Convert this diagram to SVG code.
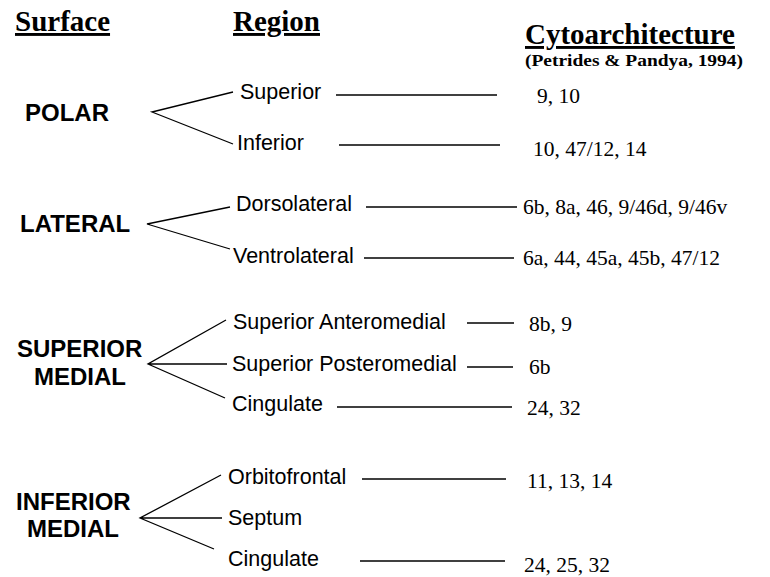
<svg xmlns="http://www.w3.org/2000/svg" width="770" height="577" viewBox="0 0 770 577">
<style>
.hdr{font-family:"Liberation Serif",serif;font-weight:bold;font-size:29px;fill:#000;text-decoration:underline}
.cite{font-family:"Liberation Serif",serif;font-weight:bold;font-size:17px;fill:#000}
.surf{font-family:"Liberation Sans",Arial,sans-serif;font-weight:bold;font-size:24px;fill:#000}
.reg{font-family:"Liberation Sans",Arial,sans-serif;font-size:21.5px;fill:#000}
.cyt{font-family:"Liberation Serif",serif;font-size:21.5px;fill:#000}
.ln{stroke:#000;stroke-width:1.3;fill:none}
</style>
<rect width="770" height="577" fill="#fff"/>
<g id="headers">
<text class="hdr" x="15" y="31">Surface</text>
<text class="hdr" x="233" y="31">Region</text>
<text class="hdr" x="525" y="44">Cytoarchitecture</text>
<text class="cite" x="525" y="66" textLength="218" lengthAdjust="spacingAndGlyphs">(Petrides &amp; Pandya, 1994)</text>
</g>
<g id="surface-polar"><text class="surf" x="25" y="121">POLAR</text></g>
<g id="surface-lateral"><text class="surf" x="20" y="232">LATERAL</text></g>
<g id="surface-superior-medial"><text class="surf" x="17" y="357">SUPERIOR</text><text class="surf" x="34" y="385">MEDIAL</text></g>
<g id="surface-inferior-medial"><text class="surf" x="16" y="510">INFERIOR</text><text class="surf" x="27" y="537">MEDIAL</text></g>

<g id="region-polar-superior"><text class="reg" x="240" y="99">Superior</text></g>
<g id="region-polar-inferior"><text class="reg" x="237" y="150">Inferior</text></g>
<g id="region-dorsolateral"><text class="reg" x="236" y="211">Dorsolateral</text></g>
<g id="region-ventrolateral"><text class="reg" x="233" y="263">Ventrolateral</text></g>
<g id="region-sup-anteromedial"><text class="reg" x="233" y="329">Superior Anteromedial</text></g>
<g id="region-sup-posteromedial"><text class="reg" x="232" y="371">Superior Posteromedial</text></g>
<g id="region-sup-cingulate"><text class="reg" x="232" y="411">Cingulate</text></g>
<g id="region-orbitofrontal"><text class="reg" x="228" y="484">Orbitofrontal</text></g>
<g id="region-septum"><text class="reg" x="228" y="525">Septum</text></g>
<g id="region-inf-cingulate"><text class="reg" x="228" y="566">Cingulate</text></g>

<g id="cyto-1"><text class="cyt" x="537" y="103">9, 10</text></g>
<g id="cyto-2"><text class="cyt" x="533" y="156">10, 47/12, 14</text></g>
<g id="cyto-3"><text class="cyt" x="523" y="214">6b, 8a, 46, 9/46d, 9/46v</text></g>
<g id="cyto-4"><text class="cyt" x="523" y="265">6a, 44, 45a, 45b, 47/12</text></g>
<g id="cyto-5"><text class="cyt" x="529" y="331">8b, 9</text></g>
<g id="cyto-6"><text class="cyt" x="529" y="374">6b</text></g>
<g id="cyto-7"><text class="cyt" x="527" y="415">24, 32</text></g>
<g id="cyto-8"><text class="cyt" x="527" y="488">11, 13, 14</text></g>
<g id="cyto-9"><text class="cyt" x="524" y="572">24, 25, 32</text></g>

<g id="connectors">
<path class="ln" d="M233,92 L152,112 L233,144"/>
<path class="ln" d="M230,207 L147,224 L230,249"/>
<path class="ln" d="M226,320 L148,364 L225,398 M148,364 L227,364"/>
<path class="ln" d="M221,475 L140,518 L214,549 M140,518 L222,518"/>
<line class="ln" x1="336" y1="95" x2="497" y2="95"/>
<line class="ln" x1="339" y1="145" x2="500" y2="145"/>
<line class="ln" x1="366" y1="207" x2="517" y2="207"/>
<line class="ln" x1="364" y1="258" x2="514" y2="258"/>
<line class="ln" x1="467" y1="323" x2="514" y2="323"/>
<line class="ln" x1="467" y1="367" x2="513" y2="367"/>
<line class="ln" x1="337" y1="407" x2="512" y2="407"/>
<line class="ln" x1="362" y1="479" x2="506" y2="479"/>
<line class="ln" x1="360" y1="561" x2="505" y2="561"/>
</g>
</svg>
